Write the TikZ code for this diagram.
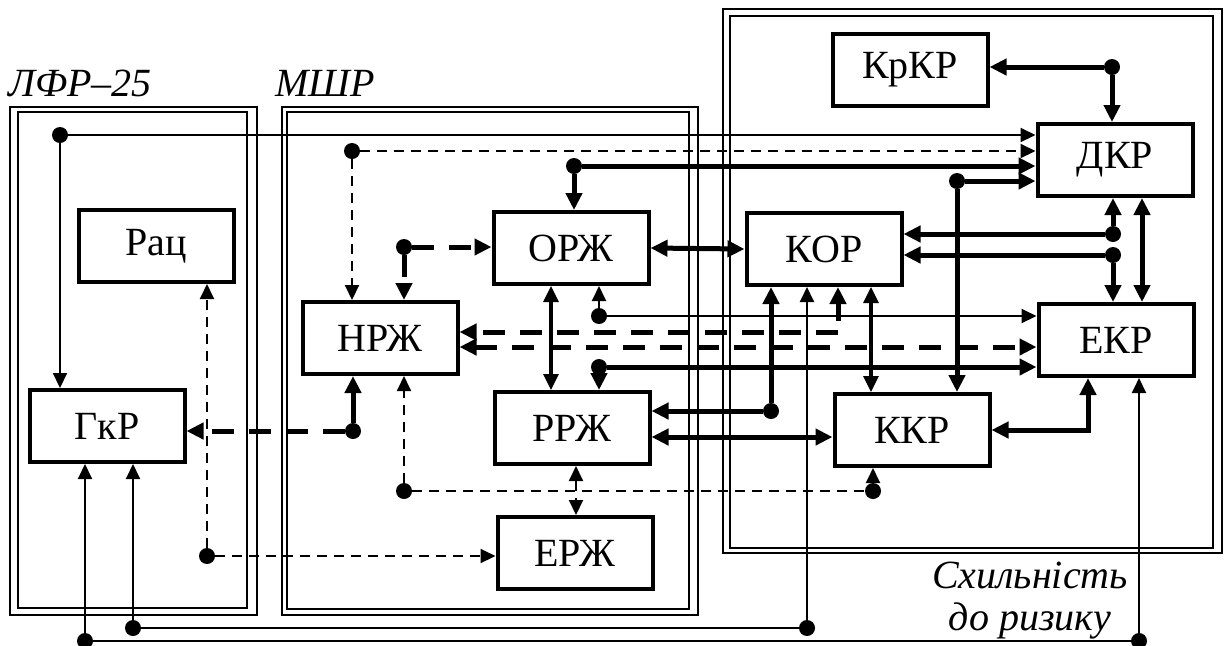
\documentclass[tikz,border=0pt]{standalone}
\usepackage{fontspec}
\setmainfont{Liberation Serif}
\usetikzlibrary{calc,arrows.meta,positioning}
\tikzset{
    block/.style={
    rectangle,draw=black,line width=2pt,minimum width=77.5pt,minimum height=36pt,
    font=\fontsize{20}{24}\selectfont
    },
    frame/.style={
    draw=black,line width=0.7pt
    },
    caption/.style={
    font=\itshape\fontsize{20}{21}\selectfont,align=center
    },
    dot/.style={
    circle,fill=black,inner sep=0pt,minimum size=8pt
    },
    conn/.style={line width=1pt},
    mconn/.style={line width=1.6pt,>={Triangle[length=8pt,width=7.5pt]}},
    bconn/.style={line width=2.5pt,>={Triangle[length=8.5pt,width=8pt]}},
    dconn/.style={line width=1pt,dash pattern=on 5pt off 3.5pt},
    bdconn/.style={line width=2.5pt,dash pattern=on 11pt off 7.5pt,>={Triangle[length=8.5pt,width=8pt]}},
}

\begin{document}
\begin{tikzpicture}[x=0.5pt,y=-0.5pt,>={Triangle[length=7.5pt,width=7pt]}]
   \useasboundingbox (0,0) rectangle (1226,645);

   %frames
   \draw[frame] (10,107) rectangle (257,615);
   \draw[frame] (18,112) rectangle (247,608);
   \draw[frame] (282,107) rectangle (698,615);
   \draw[frame] (287,112) rectangle (689,609);
   \draw[frame] (723,9) rectangle (1222,553);
   \draw[frame] (730,16) rectangle (1213,548);
   \node[caption] (lfr) at (80,83) {ЛФР–25};
   \node[caption] (mshr) at (325,83) {МШР};
   \node[caption] (risk) at (1030,601) {Схильність\\до ризику};

   %blocks
   \node[block] (rac) at (156,246) {Рац};
   \node[block] (grk) at (107,426) {ГкР};
   \node[block] (nrzh) at (380,338) {НРЖ};
   \node[block] (orzh) at (571,248) {ОРЖ};
   \node[block] (rrzh) at (572,428) {РРЖ};
   \node[block] (erzh) at (575,553) {ЕРЖ};
   \node[block] (kor) at (824,249) {КОР};
   \node[block] (kkr) at (912,430) {ККР};
   \node[block] (krkr) at (910,70) {КрКР};
   \node[block] (dkr) at (1115,160) {ДКР};
   \node[block] (ekr) at (1116,340) {ЕКР};

   %branch points
   \node[dot] (d1) at (60,135) {};
   \node[dot] (d2) at (352,151) {};
   \node[dot] (d3) at (574,166) {};
   \node[dot] (d4) at (957,181) {};
   \node[dot] (d5) at (1112,67) {};
   \node[dot] (d6) at (1113,234) {};
   \node[dot] (d7) at (1113,255) {};
   \node[dot] (d8) at (599,316) {};
   \node[dot] (d9) at (599,367) {};
   \node[dot] (d10) at (771,411) {};
   \node[dot] (d11) at (807,628) {};
   \node[dot] (d12) at (133,628) {};
   \node[dot] (d13) at (85,641) {};
   \node[dot] (d14) at (1139,641) {};
   \node[dot] (d15) at (353,431) {};
   \node[dot] (d16) at (404,491) {};
   \node[dot] (d17) at (873,491) {};
   \node[dot] (d18) at (207,556) {};
   \node[dot] (d19) at (404,247) {};
   \coordinate (c1) at (838,332);
   \coordinate (c2) at (838,321);

   %into ДКР
   \draw[conn,->] (d1) -- (d1 -| dkr.west);
   \draw[conn,->] (d1) -- (d1 |- grk.north);
   \draw[dconn,->] (d2) -- (d2 -| dkr.west);
   \draw[dconn,->] (d2) -- (d2 |- nrzh.north);
   \draw[bconn,->] (d3) -- (d3 -| dkr.west);
   \draw[bconn,->] (d3) -- (d3 |- orzh.north);
   \draw[bconn,->] (d4) -- (d4 -| dkr.west);
   \draw[bconn,->] (d4) -- (d4 |- kkr.north);
   \draw[bconn,->] (d5) -- (d5 -| krkr.east);
   \draw[bconn,->] (d5) -- (d5 |- dkr.north);

   %КОР, ДКР, ЕКР
   \draw[bconn,->] (d6) -- (d6 -| kor.east);
   \draw[bconn,->] (d6) -- (d6 |- dkr.south);
   \draw[bconn,->] (d7) -- (d7 -| kor.east);
   \draw[bconn,->] (d7) -- (d7 |- ekr.north);
   \draw[bconn,<->] (1142,0 |- dkr.south) -- (1142,0 |- ekr.north);
   \draw[bconn,<->] (orzh.east) -- (kor.west);
   \draw[mconn,<->] (551,0 |- orzh.south) -- (551,0 |- rrzh.north);
   \draw[mconn,<->] (871,0 |- kor.south) -- (871,0 |- kkr.north);

   %to ЕКР and НРЖ
   \draw[conn,->] (d8) -- (d8 |- orzh.south);
   \draw[conn,->] (d8) -- (d8 -| ekr.west);
   \draw[bdconn,->] (c1) -- (c1 -| nrzh.east);
   \draw[bconn,->] (c2) -- (c2 |- kor.south);
   \draw[bdconn,<->] (nrzh.east |- 0,347) -- (ekr.west |- 0,347);
   \draw[bconn,->] (d9) -- (d9 |- rrzh.north);
   \draw[bconn,->] (d9) -- (d9 -| ekr.west);
   \draw[bdconn,->] (d19) -- (d19 -| orzh.west);
   \draw[bdconn,->] (d19) -- (d19 |- nrzh.north);

   %РРЖ, ККР
   \draw[bconn,->] (d10) -- (d10 -| rrzh.east);
   \draw[bconn,->] (d10) -- (d10 |- kor.south);
   \draw[bconn,<->] (rrzh.east |- 0,437) -- (kkr.west |- 0,437);
   \draw[bconn,<->] (1088,0 |- ekr.south) |- (kkr.east);
   \draw[dconn,<->] (576,0 |- rrzh.south) -- (576,0 |- erzh.north);

   %bottom lines
   \draw[conn,->] (d11) -- (d11 |- kor.south);
   \draw[conn] (d12) -- (d11);
   \draw[conn,->] (d12) -- (d12 |- grk.south);
   \draw[conn,->] (d13) -- (d13 |- grk.south);
   \draw[conn] (d13) -- (d14);
   \draw[conn,->] (d14) -- (d14 |- ekr.south);

   %НРЖ, ГкР, Рац, ЕРЖ
   \draw[bconn,->] (d15) -- (d15 |- nrzh.south);
   \draw[bdconn,->] (d15) -- (d15 -| grk.east);
   \draw[dconn,->] (d16) -- (d16 |- nrzh.south);
   \draw[dconn] (d16) -- (d17);
   \draw[dconn,->] (d17) -- (d17 |- kkr.south);
   \draw[dconn,->] (d18) -- (d18 |- rac.south);
   \draw[dconn,->] (d18) -- (d18 -| erzh.west);
\end{tikzpicture}
\end{document}
